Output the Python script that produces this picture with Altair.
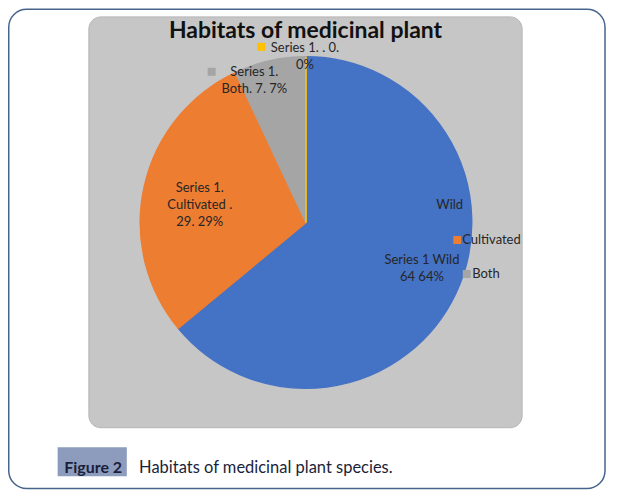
import altair as alt
import pandas as pd

# ---- data ----
categories = ["Wild", "Cultivated", "Both", ""]
values = [64, 29, 7, 0]
labels = ["Series 1 Wild\n64 64%", "Series 1.\nCultivated .\n29. 29%", "Series 1.\nBoth. 7. 7%", "Series 1. . 0.\n0%"]
colors = ["#4472C4", "#ED7D31", "#A5A5A5", "#FFC000"]
legend_items = ["Wild", "Cultivated", "Both"]
title_text = "Habitats of medicinal plant"
fig_label = "Figure 2"
caption_text = "Habitats of medicinal plant species."

df = pd.DataFrame({"cat": categories, "value": values, "label": labels, "idx": list(range(len(categories)))})

FONT = "Lato"
W, H = 602, 484
CX, CY, R = 298.5, 214.5, 166
LH = 17.5
color_scale = alt.Scale(domain=categories, range=colors)
one = pd.DataFrame({"a": [0]})

outer = alt.Chart(one).mark_rect(cornerRadius=18, fill="white", stroke="#46648c", strokeWidth=1.5).encode(
    x=alt.value(0.75), x2=alt.value(598), y=alt.value(0.75), y2=alt.value(481))
panel = alt.Chart(one).mark_rect(cornerRadius=12, fill="#c6c6c6", stroke="#b5b5b5", strokeWidth=1).encode(
    x=alt.value(81), x2=alt.value(515), y=alt.value(8.5), y2=alt.value(420))

pie = alt.Chart(df).mark_arc(outerRadius=R, strokeWidth=1.5).encode(
    theta=alt.Theta("value:Q", stack=True),
    color=alt.Color("cat:N", scale=color_scale, legend=None),
    stroke=alt.Color("cat:N", scale=color_scale, legend=None),
    order=alt.Order("idx:Q"),
    x=alt.value(CX), y=alt.value(CY))

def label_layer(cat, nlines, radius, dx, dy):
    return alt.Chart(df).transform_calculate(
        t=f"datum.cat === '{cat}' ? datum.label : ''"
    ).mark_text(radius=radius, dx=dx, dy=dy - (nlines - 1) * LH / 2, font=FONT, fontSize=13, lineBreak="\n",
                lineHeight=LH, color="#262626", align="center", baseline="middle").encode(
        theta=alt.Theta("value:Q", stack=True),
        detail="cat:N",
        order=alt.Order("idx:Q"),
        text="t:N",
        x=alt.value(CX), y=alt.value(CY))

lab_wild = label_layer("Wild", 2, 125, 3, -7)
lab_cult = label_layer("Cultivated", 3, 108, -1, 6)
lab_both = label_layer("Both", 2, 150, -19, 4)
lab_zero = label_layer("", 2, 168, -1, 1.5)

def key(cat, x, y):
    return alt.Chart(df).transform_filter(alt.datum.cat == cat).mark_square(size=64, opacity=1).encode(
        color=alt.Color("cat:N", scale=color_scale, legend=None), x=alt.value(x), y=alt.value(y))

def legtext(txt, x, y):
    return alt.Chart(one).mark_text(font=FONT, fontSize=13, color="#262626", align="left", baseline="middle").encode(
        text=alt.value(txt), x=alt.value(x), y=alt.value(y))

keys = [key("Both", 204, 63.5), key("", 253.5, 38.5),
        key("Wild", 423, 197), key("Cultivated", 450, 232), key("Both", 459.5, 266)]
legs = [legtext(legend_items[0], 429, 197), legtext(legend_items[1], 455, 232), legtext(legend_items[2], 465, 266)]

title = alt.Chart(one).mark_text(font=FONT, fontSize=23, fontWeight="bold", color="#111111", align="center").encode(
    text=alt.value(title_text), x=alt.value(298), y=alt.value(23))

figbox = alt.Chart(one).mark_rect(fill="#8d9cbd").encode(
    x=alt.value(49.7), x2=alt.value(119), y=alt.value(439.7), y2=alt.value(468.7))
figtxt = alt.Chart(one).mark_text(font=FONT, fontSize=16, fontWeight="bold", color="#1a1f3a", align="left").encode(
    text=alt.value(fig_label), x=alt.value(56.3), y=alt.value(460.5))
captxt = alt.Chart(one).mark_text(font=FONT, fontSize=16.5, color="#1a1f3a", align="left").encode(
    text=alt.value(caption_text), x=alt.value(131.3), y=alt.value(460.5))

chart = alt.layer(outer, panel, pie, lab_wild, lab_cult, lab_both, lab_zero, *keys, *legs, title, figbox, figtxt, captxt).properties(
    width=W, height=H, autosize="none", padding=0
).configure_view(stroke=None)

chart.save("out.html", embed_options={"renderer": "svg", "actions": False})
